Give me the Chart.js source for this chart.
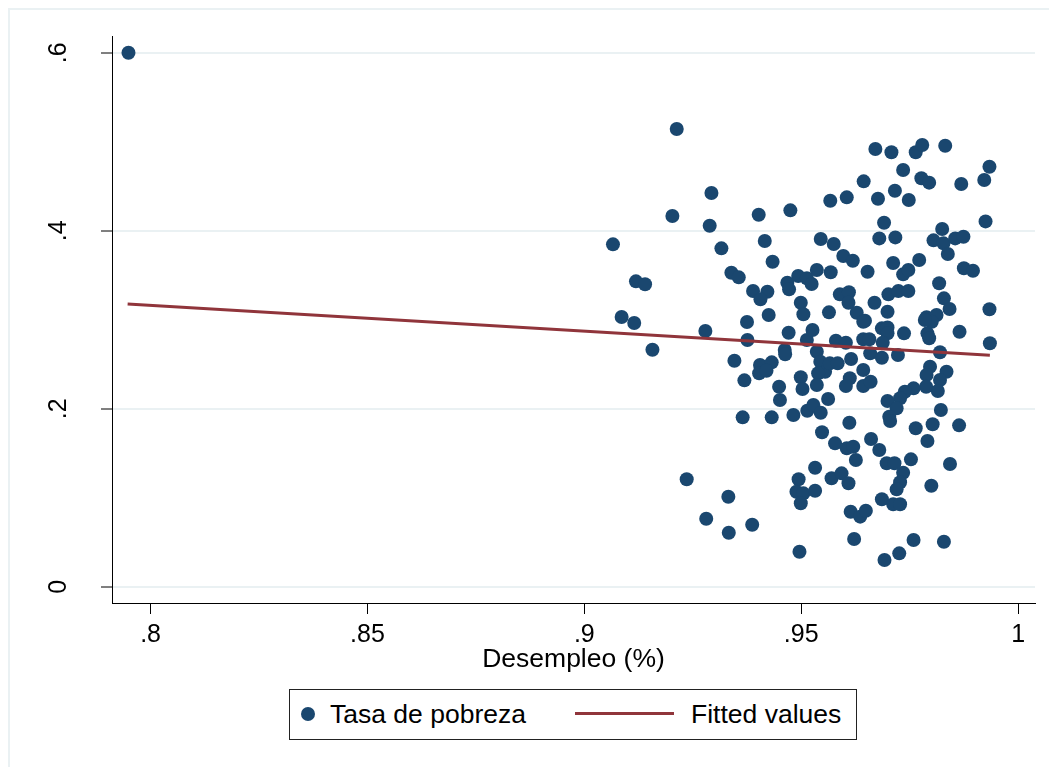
<!DOCTYPE html>
<html>
<head>
<meta charset="utf-8">
<title>Tasa de pobreza vs Desempleo</title>
<script src="https://cdn.jsdelivr.net/npm/chart.js@4.4.1/dist/chart.umd.min.js"></script>
<style>
  html, body { margin: 0; padding: 0; background: #fff; }
  #wrap { position: relative; width: 1049px; height: 767px; overflow: hidden; }
  #grafico { position: absolute; left: 0; top: 0; }
  #leyenda {
    position: absolute; left: 289px; top: 689px; width: 568px; height: 51px;
    box-sizing: border-box; border: 1px solid #222; background: #fff;
    font-family: "Liberation Sans", Arial, sans-serif; font-size: 26.5px; color: #000;
  }
  #leyenda span { position: absolute; }
  #leyenda .punto { left: 11px; top: 17px; width: 14px; height: 14px; border-radius: 50%; background: #1a476f; }
  #leyenda .linea { left: 285px; top: 22px; width: 99px; height: 3px; background: #90353b; }
  #leyenda .txt { top: 0; height: 49px; line-height: 49px; white-space: nowrap; }
</style>
</head>
<body>
<div id="wrap">
  <canvas id="grafico" width="1049" height="767"></canvas>
  <div id="leyenda">
    <span class="punto"></span><span class="txt" style="left:40px">Tasa de pobreza</span>
    <span class="linea"></span><span class="txt" style="left:401px">Fitted values</span>
  </div>
</div>
<script>
// Desempleo (%) - eje x
const desempleo = [
  0.7949,
  0.9213, 0.9293, 0.9203, 0.9289, 0.9402, 0.9475, 0.9066, 0.9316, 0.9416, 0.9434,
  0.9339, 0.9356, 0.9119, 0.9140, 0.9389, 0.9422, 0.9406, 0.9468, 0.9472, 0.9493,
  0.9513, 0.9499, 0.9505, 0.9086, 0.9115, 0.9375, 0.9425,
  0.9671, 0.9708, 0.9764, 0.9779, 0.9832, 0.9934, 0.9922, 0.9735, 0.9777, 0.9795,
  0.9869, 0.9644, 0.9567, 0.9605, 0.9677, 0.9716, 0.9748, 0.9925, 0.9691, 0.9680,
  0.9717, 0.9825, 0.9805, 0.9828, 0.9838, 0.9855, 0.9874, 0.9545, 0.9575, 0.9597,
  0.9619, 0.9712, 0.9772, 0.9875, 0.9896, 0.9653, 0.9568, 0.9536, 0.9524, 0.9735,
  0.9747, 0.9818, 0.9589, 0.9610, 0.9609, 0.9701, 0.9724, 0.9747, 0.9669, 0.9699,
  0.9829, 0.9842, 0.9934, 0.9564, 0.9628, 0.9647, 0.9789, 0.9812,
  0.9279, 0.9157, 0.9376, 0.9471, 0.9513, 0.9462, 0.9463, 0.9346, 0.9405, 0.9432,
  0.9403, 0.9420, 0.9369, 0.9449, 0.9451, 0.9499, 0.9503, 0.9365, 0.9432, 0.9482,
  0.9514, 0.9236, 0.9332, 0.9281, 0.9333, 0.9387, 0.9494, 0.9489, 0.9505, 0.9499,
  0.9496,
  0.9526, 0.9536, 0.9544, 0.9555, 0.9539, 0.9536, 0.9566, 0.9580, 0.9603, 0.9584,
  0.9615, 0.9643, 0.9657, 0.9686, 0.9699, 0.9699, 0.9688, 0.9737, 0.9659, 0.9686,
  0.9723, 0.9791, 0.9795, 0.9801, 0.9785, 0.9865, 0.9935, 0.9820, 0.9643, 0.9612,
  0.9603, 0.9643, 0.9660, 0.9562, 0.9528, 0.9545, 0.9797, 0.9789, 0.9835, 0.9820,
  0.9788, 0.9759, 0.9815, 0.9739, 0.9728, 0.9699, 0.9720, 0.9703, 0.9705, 0.9822,
  0.9611, 0.9764, 0.9803, 0.9864, 0.9548, 0.9791, 0.9578, 0.9605, 0.9620, 0.9626,
  0.9661, 0.9680, 0.9697, 0.9715, 0.9735, 0.9728, 0.9720, 0.9753, 0.9843, 0.9800,
  0.9532, 0.9570, 0.9593, 0.9609, 0.9532, 0.9686, 0.9712, 0.9728, 0.9614, 0.9636,
  0.9649, 0.9622, 0.9759, 0.9829, 0.9726, 0.9692, 0.9643
];

// Tasa de pobreza - eje y
const pobreza = [
  0.600,
  0.5143, 0.4424, 0.4165, 0.4056, 0.4180, 0.4229, 0.3847, 0.3802, 0.3884, 0.3652,
  0.3528, 0.3476, 0.3431, 0.3398, 0.3322, 0.3315, 0.3229, 0.3416, 0.3341, 0.3491,
  0.3465, 0.3191, 0.3061, 0.3030, 0.2963, 0.2974, 0.3053,
  0.4918, 0.4881, 0.4881, 0.4963, 0.4955, 0.4719, 0.4570, 0.4682, 0.4589, 0.4540,
  0.4525, 0.4555, 0.4337, 0.4375, 0.4360, 0.4450, 0.4345, 0.4105, 0.4090, 0.3914,
  0.3925, 0.4019, 0.3892, 0.3858, 0.3738, 0.3914, 0.3933, 0.3907, 0.3851, 0.3716,
  0.3663, 0.3637, 0.3671, 0.3578, 0.3551, 0.3539, 0.3533, 0.3558, 0.3401, 0.3510,
  0.3558, 0.3409, 0.3285, 0.3308, 0.3191, 0.3285, 0.3322, 0.3322, 0.3191, 0.3090,
  0.3240, 0.3120, 0.3117, 0.3083, 0.3079, 0.2989, 0.3027, 0.3053,
  0.2873, 0.2663, 0.2772, 0.2854, 0.2772, 0.2660, 0.2611, 0.2539, 0.2491, 0.2521,
  0.2398, 0.2427, 0.2319, 0.2247, 0.2098, 0.2353, 0.2221, 0.1903, 0.1903, 0.1929,
  0.1978, 0.1207, 0.1011, 0.0764, 0.0607, 0.0697, 0.1207, 0.1067, 0.1049, 0.0937,
  0.0393,
  0.2884, 0.2640, 0.2528, 0.2416, 0.2398, 0.2266, 0.2510, 0.2764, 0.2742, 0.2510,
  0.2558, 0.2780, 0.2780, 0.2903, 0.2914, 0.2847, 0.2742, 0.2847, 0.2622, 0.2573,
  0.2603, 0.2847, 0.2791, 0.2978, 0.2997, 0.2865, 0.2735, 0.2634, 0.2435, 0.2342,
  0.2255, 0.2255, 0.2303, 0.2109, 0.2042, 0.1955, 0.2472, 0.2379, 0.2416, 0.2322,
  0.2247, 0.2229, 0.2199, 0.2191, 0.2117, 0.2087, 0.2004, 0.1910, 0.1862, 0.1985,
  0.1843, 0.1780, 0.1825, 0.1813, 0.1735, 0.1637, 0.1611, 0.1555, 0.1573, 0.1424,
  0.1660, 0.1536, 0.1387, 0.1387, 0.1281, 0.1173, 0.1094, 0.1431, 0.1379, 0.1135,
  0.1337, 0.1218, 0.1274, 0.1162, 0.1079, 0.0982, 0.0926, 0.0926, 0.0843, 0.0787,
  0.0854, 0.0536, 0.0525, 0.0506, 0.0375, 0.0300, 0.2978
];

// Valores ajustados (recta de regresión, extremos)
const ajusteX = [0.7947, 0.9935];
const ajusteY = [0.3176, 0.2600];

// Marcas de los ejes
const xTickValues = [0.8, 0.85, 0.9, 0.95, 1];
const xTickLabels = ['.8', '.85', '.9', '.95', '1'];
const yTickValues = [0, 0.2, 0.4, 0.6];
const yTickLabels = ['0', '.2', '.4', '.6'];

const FUENTE = '"Liberation Sans", Arial, sans-serif';
Chart.defaults.font.family = FUENTE;
Chart.defaults.color = '#000';

// Marco exterior del gráfico
const marcoPlugin = {
  id: 'marco',
  beforeDraw(chart) {
    const ctx = chart.ctx;
    ctx.save();
    ctx.fillStyle = '#fff';
    ctx.fillRect(0, 0, chart.width, chart.height);
    ctx.strokeStyle = '#eaf1f3';
    ctx.lineWidth = 2;
    ctx.strokeRect(9, 9, 1200, 1200);
    ctx.restore();
  }
};

// Etiquetas del eje y giradas 90 grados
const etiquetasYPlugin = {
  id: 'etiquetasY',
  afterDraw(chart) {
    const { ctx, scales: { y } } = chart;
    ctx.save();
    ctx.font = '25px ' + FUENTE;
    ctx.fillStyle = '#000';
    ctx.textAlign = 'center';
    ctx.textBaseline = 'middle';
    yTickValues.forEach((v, i) => {
      ctx.save();
      ctx.translate(59, y.getPixelForValue(v));
      ctx.rotate(-Math.PI / 2);
      ctx.fillText(yTickLabels[i], 0, 0);
      ctx.restore();
    });
    ctx.restore();
  }
};

const puntos = desempleo.map((x, i) => ({ x: x, y: pobreza[i] }));
const recta = ajusteX.map((x, i) => ({ x: x, y: ajusteY[i] }));

new Chart(document.getElementById('grafico'), {
  type: 'scatter',
  data: {
    datasets: [
      {
        type: 'line',
        label: 'Fitted values',
        data: recta,
        borderColor: '#90353b',
        borderWidth: 3,
        pointRadius: 0,
        fill: false,
        order: 0
      },
      {
        label: 'Tasa de pobreza',
        data: puntos,
        backgroundColor: '#1a476f',
        borderColor: '#1a476f',
        borderWidth: 0,
        pointRadius: 7,
        order: 1
      }
    ]
  },
  options: {
    responsive: false,
    animation: false,
    events: [],
    layout: { padding: { left: 0, right: 14, top: 36, bottom: 0 } },
    plugins: {
      legend: { display: false },
      tooltip: { enabled: false }
    },
    scales: {
      x: {
        type: 'linear',
        min: 0.7911,
        max: 1.0039,
        afterFit: s => { s.height = 164; },
        afterBuildTicks: s => { s.ticks = xTickValues.map(v => ({ value: v })); },
        border: { display: true, color: '#000', width: 1 },
        grid: { drawOnChartArea: false, tickLength: 11, tickColor: '#000', tickWidth: 1 },
        ticks: {
          autoSkip: false,
          maxRotation: 0,
          padding: 9,
          font: { size: 25, lineHeight: 1 },
          callback: (v, i) => xTickLabels[i]
        },
        title: {
          display: true,
          text: 'Desempleo (%)',
          font: { size: 26.5, lineHeight: 1 },
          padding: { top: 0, bottom: 94 }
        }
      },
      y: {
        type: 'linear',
        min: -0.0183,
        max: 0.6188,
        afterFit: s => { s.width = 112; },
        afterBuildTicks: s => { s.ticks = yTickValues.map(v => ({ value: v })); },
        border: { display: true, color: '#000', width: 1 },
        grid: { color: '#eaf1f3', lineWidth: 2, tickLength: 11, tickColor: '#000', tickWidth: 1 },
        ticks: { display: false }
      }
    }
  },
  plugins: [marcoPlugin, etiquetasYPlugin]
});
</script>
</body>
</html>
